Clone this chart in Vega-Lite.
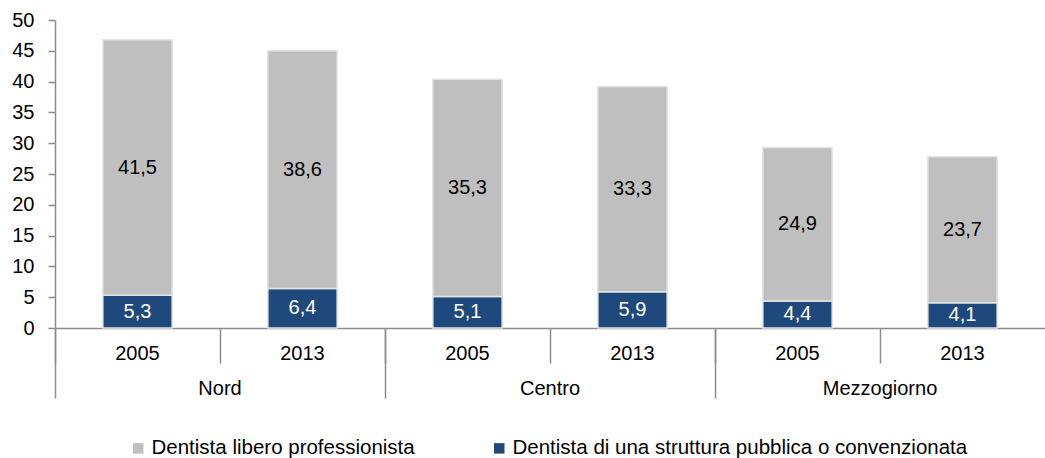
{
  "$schema": "https://vega.github.io/schema/vega-lite/v6.json",
  "autosize": {"type": "none"},
  "padding": {"left": 55, "top": 20, "right": 0, "bottom": 130},
  "width": 990,
  "height": 308,
  "data": {
    "values": [
      {"region": "Nord", "year": "2005", "key": "Nord|2005", "tipo": "Dentista di una struttura pubblica o convenzionata", "ord": 1, "value": 5.3},
      {"region": "Nord", "year": "2005", "key": "Nord|2005", "tipo": "Dentista libero professionista", "ord": 2, "value": 41.5},
      {"region": "Nord", "year": "2013", "key": "Nord|2013", "tipo": "Dentista di una struttura pubblica o convenzionata", "ord": 1, "value": 6.4},
      {"region": "Nord", "year": "2013", "key": "Nord|2013", "tipo": "Dentista libero professionista", "ord": 2, "value": 38.6},
      {"region": "Centro", "year": "2005", "key": "Centro|2005", "tipo": "Dentista di una struttura pubblica o convenzionata", "ord": 1, "value": 5.1},
      {"region": "Centro", "year": "2005", "key": "Centro|2005", "tipo": "Dentista libero professionista", "ord": 2, "value": 35.3},
      {"region": "Centro", "year": "2013", "key": "Centro|2013", "tipo": "Dentista di una struttura pubblica o convenzionata", "ord": 1, "value": 5.9},
      {"region": "Centro", "year": "2013", "key": "Centro|2013", "tipo": "Dentista libero professionista", "ord": 2, "value": 33.3},
      {"region": "Mezzogiorno", "year": "2005", "key": "Mezzogiorno|2005", "tipo": "Dentista di una struttura pubblica o convenzionata", "ord": 1, "value": 4.4},
      {"region": "Mezzogiorno", "year": "2005", "key": "Mezzogiorno|2005", "tipo": "Dentista libero professionista", "ord": 2, "value": 24.9},
      {"region": "Mezzogiorno", "year": "2013", "key": "Mezzogiorno|2013", "tipo": "Dentista di una struttura pubblica o convenzionata", "ord": 1, "value": 4.1},
      {"region": "Mezzogiorno", "year": "2013", "key": "Mezzogiorno|2013", "tipo": "Dentista libero professionista", "ord": 2, "value": 23.7}
    ]
  },
  "layer": [
    {
      "mark": {"type": "bar", "width": {"band": 0.42}, "stroke": "#E3E3E3", "strokeWidth": 1.5},
      "encoding": {
        "x": {
          "field": "key", "type": "nominal", "sort": null,
          "scale": {"paddingInner": 0, "paddingOuter": 0},
          "axis": {
            "title": null, "orient": "bottom", "bandPosition": 0,
            "labelExpr": "split(datum.value, '|')[1]",
            "labelAngle": 0, "labelBaseline": "middle", "labelPadding": -10,
            "tickSize": 35, "tickWidth": 1.5, "tickColor": "#8C8C8C",
            "domainColor": "#8C8C8C", "domainWidth": 1.5,
            "labelFontSize": 20, "labelColor": "#000000", "labelFont": "Liberation Sans"
          }
        },
        "y": {
          "field": "value", "type": "quantitative", "stack": "zero",
          "scale": {"domain": [0, 50], "nice": false},
          "axis": {
            "title": null, "values": [0, 5, 10, 15, 20, 25, 30, 35, 40, 45, 50],
            "labelOverlap": false,
            "grid": false, "tickSize": 7, "tickWidth": 1.5, "tickColor": "#8C8C8C",
            "domainColor": "#8C8C8C", "domainWidth": 1.5, "labelPadding": 14,
            "labelFontSize": 20, "labelColor": "#000000", "labelFont": "Liberation Sans"
          }
        },
        "color": {
          "field": "tipo", "type": "nominal",
          "scale": {
            "domain": ["Dentista libero professionista", "Dentista di una struttura pubblica o convenzionata"],
            "range": ["#BFBFBF", "#1F497D"]
          },
          "legend": {
            "title": null, "orient": "none", "direction": "horizontal",
            "legendX": 73, "legendY": 418,
            "symbolType": "square", "symbolSize": 110, "symbolStrokeWidth": 0,
            "labelFontSize": 20.5, "labelFont": "Liberation Sans", "labelColor": "#000000",
            "labelLimit": 700, "columnPadding": 74, "labelOffset": 3
          }
        },
        "order": {"field": "ord", "type": "quantitative"}
      }
    },
    {
      "mark": {"type": "text", "fontSize": 20, "font": "Liberation Sans"},
      "encoding": {
        "x": {
          "field": "key", "type": "nominal", "sort": null,
          "scale": {"paddingInner": 0, "paddingOuter": 0},
          "axis": {
            "title": null, "orient": "bottom", "bandPosition": 0,
            "values": ["Nord|2005", "Centro|2005", "Mezzogiorno|2005"],
            "labelExpr": "split(datum.value, '|')[0]",
            "labelAngle": 0, "labelBaseline": "middle", "labelPadding": -10,
            "labelOffset": 82.5,
            "tickSize": 70, "tickWidth": 1.5, "tickColor": "#8C8C8C",
            "domain": false,
            "labelFontSize": 20, "labelColor": "#000000", "labelFont": "Liberation Sans"
          }
        },
        "y": {
          "field": "value", "type": "quantitative", "stack": "zero", "bandPosition": 0.5,
          "axis": {
            "title": null, "values": [0, 5, 10, 15, 20, 25, 30, 35, 40, 45, 50],
            "labelOverlap": false,
            "grid": false, "tickSize": 7, "tickWidth": 1.5, "tickColor": "#8C8C8C",
            "domainColor": "#8C8C8C", "domainWidth": 1.5, "labelPadding": 14,
            "labelFontSize": 20, "labelColor": "#000000", "labelFont": "Liberation Sans"
          }
        },
        "detail": {"field": "tipo"},
        "order": {"field": "ord", "type": "quantitative"},
        "text": {"field": "value", "type": "quantitative", "format": ".1f"},
        "color": {
          "condition": {"test": "datum.ord === 1", "value": "#FFFFFF"},
          "value": "#000000"
        }
      }
    }
  ],
  "resolve": {"axis": {"x": "independent"}},
  "config": {
    "view": {"stroke": null},
    "font": "Liberation Sans",
    "locale": {
      "number": {"decimal": ",", "thousands": ".", "grouping": [3], "currency": ["€", ""]}
    }
  }
}
